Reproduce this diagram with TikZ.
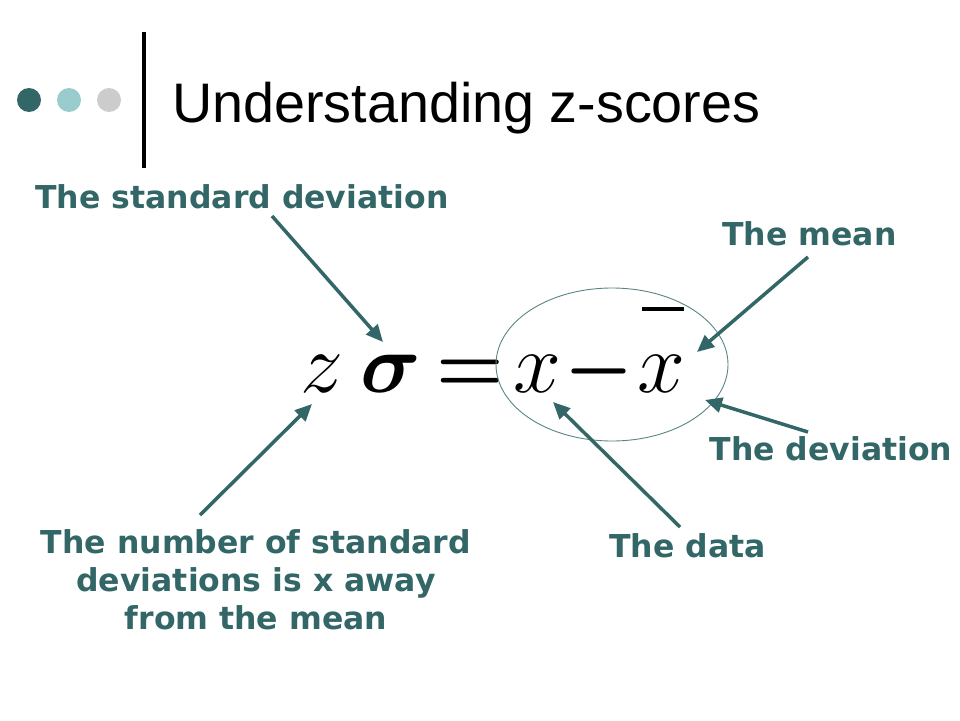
\RequirePackage{fix-cm}
\documentclass[tikz,border=0pt]{standalone}
\usepackage{fontspec}
\setmainfont{Liberation Sans}
\newfontfamily\lblfont{DejaVu Sans}
\usetikzlibrary{arrows.meta,shapes.geometric}
\definecolor{teal1}{HTML}{336666}
\definecolor{teal2}{HTML}{99CCCC}
\definecolor{grey1}{HTML}{CCCCCC}
\definecolor{ellc}{HTML}{5A8585}
\tikzset{
  lbl/.style={inner sep=0pt, anchor=base, text=teal1, font=\lblfont\bfseries\fontsize{31.5}{38}\selectfont, align=center},
  eqsym/.style={inner sep=0pt, anchor=base, font=\fontsize{86}{86}\selectfont},
  eqbold/.style={inner sep=0pt, anchor=base, font=\fontsize{84}{84}\selectfont\boldmath},
  pointer/.style={draw=teal1, line width=3.5pt, -{Triangle[length=17pt,width=15pt]}},
}
\begin{document}
\begin{tikzpicture}[x=1pt,y=-1pt]
\useasboundingbox[fill=white] (0,0) rectangle (960,720);
% header
\fill[teal1] (29,100) circle (12);
\fill[teal2] (69,100) circle (12);
\fill[grey1] (109,100) circle (12);
\draw[line width=4pt] (144,32) -- (144,168);
\node[inner sep=0pt, anchor=base west, font=\fontsize{55.7}{60}\selectfont] (title) at (172,122) {Understanding z-scores};
% equation
\node[eqsym] (ez) at (321.5,392) {$z$};
\node[eqbold] (es) at (391,392) {$\sigma$};
\node[eqbold, xscale=0.92] (eq) at (470,392) {$=$};
\node[eqbold, xscale=0.92] (em) at (599.5,392) {$-$};
\node[eqsym] (ex) at (537.5,392) {$x$};
\node[eqsym] (exb) at (661.5,392) {$x$};
\coordinate (barl) at (642,309);
\coordinate (barr) at (684,309);
\draw[line width=3.5pt] (barl) -- (barr);
\node[draw=ellc, line width=0.9pt, ellipse, minimum width=232, minimum height=153, inner sep=0pt] (ell) at (612,364.5) {};
% labels
\node[lbl] (lsd) at (242,208) {The standard deviation};
\node[lbl] (lmean) at (809.5,245) {The mean};
\node[lbl] (ldev) at (831,460) {The deviation};
\node[lbl] (ldata) at (687.5,557) {The data};
\node[lbl, anchor=north] (lnum) at (256,529) {The number of standard\\deviations is x away\\from the mean};
% arrow coordinates
\coordinate (s1) at (272,216); \coordinate (t1) at (383,342);
\coordinate (s2) at (808,257); \coordinate (t2) at (697,352);
\coordinate (s3) at (808,432); \coordinate (t3) at (705,400);
\coordinate (s4) at (680,527); \coordinate (t4) at (553,402);
\coordinate (s5) at (200,515); \coordinate (t5) at (312,404);
\draw[pointer] (s1) -- (t1);
\draw[pointer] (s2) -- (t2);
\draw[pointer] (s3) -- (t3);
\draw[pointer] (s4) -- (t4);
\draw[pointer] (s5) -- (t5);
\end{tikzpicture}
\end{document}
